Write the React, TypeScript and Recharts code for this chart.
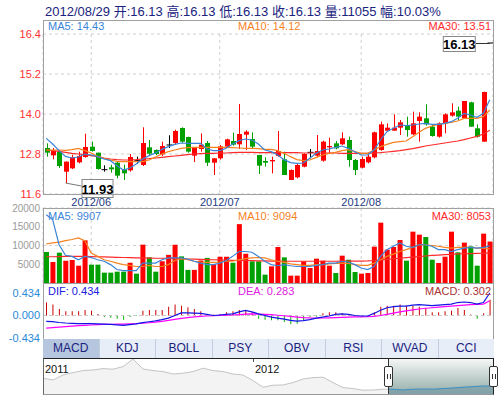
import React from "react";
import {
  ComposedChart,
  AreaChart,
  Area,
  Bar,
  Line,
  XAxis,
  YAxis,
  CartesianGrid,
  Cell,
  ReferenceDot,
  ReferenceLine,
} from "recharts";

const dates = [
  "2012/05/23", "2012/05/24", "2012/05/25", "2012/05/28", "2012/05/29", "2012/05/30", "2012/05/31",
  "2012/06/01", "2012/06/04", "2012/06/05", "2012/06/06", "2012/06/07", "2012/06/08", "2012/06/11",
  "2012/06/12", "2012/06/13", "2012/06/14", "2012/06/15", "2012/06/18", "2012/06/19", "2012/06/20",
  "2012/06/21", "2012/06/25", "2012/06/26", "2012/06/27", "2012/06/28", "2012/06/29",
  "2012/07/02", "2012/07/03", "2012/07/04", "2012/07/05", "2012/07/06", "2012/07/09", "2012/07/10",
  "2012/07/11", "2012/07/12", "2012/07/13", "2012/07/16", "2012/07/17", "2012/07/18", "2012/07/19",
  "2012/07/20", "2012/07/23", "2012/07/24", "2012/07/25", "2012/07/26", "2012/07/27", "2012/07/30",
  "2012/07/31",
  "2012/08/01", "2012/08/02", "2012/08/03", "2012/08/06", "2012/08/07", "2012/08/08", "2012/08/09",
  "2012/08/10", "2012/08/13", "2012/08/14", "2012/08/15", "2012/08/16", "2012/08/17", "2012/08/20",
  "2012/08/21", "2012/08/22", "2012/08/23", "2012/08/24", "2012/08/27", "2012/08/28", "2012/08/29",
];

const opens = [
  12.98, 12.76, 12.87, 12.27, 12.37, 12.55, 12.71, 13.02, 12.84, 12.33,
  12.4, 12.54, 12.34, 12.31, 12.6, 12.47, 13.0, 12.92, 12.79, 13.07,
  13.13, 13.58, 13.31, 12.75, 12.95, 13.13, 12.54, 12.67, 13.02, 13.19,
  13.09, 13.38, 13.25, 12.77, 12.59, 12.58, 12.74, 12.64, 12.02, 12.1,
  12.42, 12.85, 12.75, 12.6, 13.0, 13.12, 13.09, 13.22, 12.62, 12.39,
  12.55, 12.7, 12.92, 13.5, 13.5, 13.59, 13.67, 13.39, 13.79, 13.87,
  13.62, 13.32, 13.72, 13.95, 14.1, 13.87, 14.35, 13.57, 13.17, 16.13,
];
const highs = [
  13.12, 12.98, 12.92, 12.58, 12.78, 12.87, 13.41, 13.17, 12.84, 12.46,
  12.48, 12.57, 12.48, 12.8, 12.72, 13.6, 13.22, 12.94, 13.17, 13.36,
  13.53, 13.6, 13.32, 13.0, 13.42, 13.19, 12.68, 13.07, 13.26, 13.44,
  14.3, 13.51, 13.45, 12.77, 12.7, 12.72, 13.49, 12.87, 12.34, 12.52,
  12.82, 12.95, 13.37, 13.2, 13.29, 13.19, 13.45, 13.32, 12.65, 12.72,
  12.82, 13.47, 13.77, 13.72, 13.99, 13.82, 13.92, 14.07, 14.05, 14.29,
  13.67, 13.75, 14.02, 14.32, 14.22, 14.39, 14.37, 13.69, 14.67, 16.13,
];
const lows = [
  12.72, 12.64, 12.38, 11.93, 12.35, 12.52, 12.69, 12.87, 12.33, 12.27,
  12.24, 12.07, 12.02, 12.27, 12.51, 12.44, 12.76, 12.77, 12.74, 12.98,
  13.08, 13.14, 12.84, 12.56, 12.87, 12.44, 12.17, 12.63, 12.99, 13.05,
  12.95, 12.92, 12.95, 12.2, 12.42, 12.22, 12.72, 12.17, 12.02, 12.07,
  12.4, 12.67, 12.7, 12.57, 12.82, 12.94, 13.07, 12.42, 12.17, 12.37,
  12.52, 12.67, 12.9, 13.5, 13.5, 13.37, 13.32, 13.37, 13.17, 13.65,
  13.32, 13.29, 13.42, 13.92, 13.82, 13.87, 13.62, 13.29, 13.17, 16.13,
];
const closes = [
  12.84, 12.9, 12.44, 12.57, 12.7, 12.74, 13.01, 12.89, 12.35, 12.33,
  12.34, 12.15, 12.22, 12.71, 12.6, 13.13, 12.81, 12.8, 13.04, 13.07,
  13.49, 13.17, 12.87, 12.98, 13.08, 12.54, 12.67, 13.03, 13.24, 13.08,
  13.4, 13.47, 13.02, 12.45, 12.54, 12.62, 12.89, 12.17, 12.32, 12.47,
  12.8, 12.85, 12.89, 13.17, 13.04, 12.97, 13.27, 12.62, 12.32, 12.65,
  12.72, 13.45, 13.69, 13.59, 13.59, 13.75, 13.52, 13.72, 13.92, 13.69,
  13.34, 13.72, 13.99, 14.05, 13.92, 14.39, 13.62, 13.32, 14.66, 16.13,
];

const priceMa5 = [
  13.27, 13.1, 12.9, 12.73, 12.68, 12.71, 12.8, 12.77, 12.72, 12.65,
  12.6, 12.45, 12.32, 12.38, 12.5, 12.65, 12.75, 12.83, 12.94, 13.02,
  13.09, 13.13, 13.12, 13.12, 13.12, 12.95, 12.9, 12.9, 12.97, 13.1,
  13.2, 13.25, 13.22, 13.1, 12.92, 12.87, 12.77, 12.63, 12.54, 12.52,
  12.53, 12.67, 12.82, 12.92, 12.95, 13.0, 13.04, 12.97, 12.87, 12.77,
  12.77, 12.92, 13.22, 13.47, 13.57, 13.67, 13.65, 13.67, 13.7, 13.72,
  13.69, 13.69, 13.72, 13.77, 13.87, 14.02, 13.97, 13.9, 14.02, 14.43,
];
const priceMa10 = [
  12.92, 12.92, 12.92, 12.91, 12.93, 12.97, 12.9, 12.83, 12.73, 12.67,
  12.62, 12.58, 12.57, 12.57, 12.57, 12.57, 12.62, 12.71, 12.8, 12.87,
  12.92, 12.97, 12.99, 13.0, 13.0, 13.0, 13.0, 13.0, 13.0, 12.99,
  12.98, 12.97, 12.97, 12.96, 12.94, 12.94, 12.9, 12.82, 12.72, 12.63,
  12.6, 12.62, 12.7, 12.77, 12.82, 12.85, 12.9, 12.93, 12.87, 12.82,
  12.82, 12.92, 13.02, 13.09, 13.15, 13.17, 13.19, 13.32, 13.45, 13.57,
  13.64, 13.69, 13.72, 13.75, 13.79, 13.87, 13.87, 13.87, 13.92, 14.12,
];
const priceMa30 = [
  12.92, 12.9, 12.88, 12.85, 12.82, 12.8, 12.78, 12.75, 12.72, 12.68,
  12.65, 12.63, 12.62, 12.62, 12.63, 12.65, 12.66, 12.68, 12.7, 12.72,
  12.74, 12.76, 12.78, 12.8, 12.81, 12.82, 12.82, 12.83, 12.83, 12.84,
  12.85, 12.85, 12.85, 12.84, 12.84, 12.84, 12.84, 12.84, 12.84, 12.84,
  12.83, 12.83, 12.83, 12.83, 12.83, 12.83, 12.82, 12.82, 12.82, 12.82,
  12.82, 12.83, 12.84, 12.86, 12.88, 12.9, 12.93, 12.96, 13.0, 13.04,
  13.07, 13.1, 13.13, 13.16, 13.19, 13.23, 13.28, 13.33, 13.4, 13.51,
];

const volumes = [
  8270, 5600, 8090, 5960, 6130, 4620, 11380, 4890, 4890, 2760,
  2760, 3020, 3020, 5420, 2490, 10220, 6840, 3020, 5800, 7500,
  10200, 7100, 3500, 3500, 6000, 6700, 5000, 7000, 7000, 5400,
  15700, 7800, 5780, 5780, 2220, 4440, 9600, 6840, 1960, 1960,
  5780, 4000, 6490, 5960, 4620, 2670, 7290, 6220, 2930, 2490,
  2670, 9690, 16090, 8890, 9600, 11470, 5960, 13690, 12890, 12270,
  6220, 5330, 7020, 13690, 8180, 10760, 9780, 4620, 13160, 11055,
];
const volMa5 = [
  18200, 16900, 10200, 7400, 7100, 6200, 7100, 6800, 6200, 5800,
  4900, 3600, 3300, 3300, 3300, 5300, 5300, 5300, 6200, 6700,
  6700, 6700, 6400, 5800, 5300, 4900, 4900, 5300, 6000, 7100,
  8400, 8400, 8200, 7100, 5800, 4900, 4600, 4900, 4600, 4400,
  4400, 4400, 4700, 4900, 5300, 5300, 5800, 5600, 4900, 4000,
  3600, 4400, 7100, 8900, 9800, 10700, 9800, 9500, 10200, 10200,
  9800, 8900, 8900, 8400, 8900, 9300, 9500, 9300, 9500, 9907,
];
const volMa10 = [
  10400, 10700, 10900, 11300, 11600, 12000, 11300, 8000, 7100, 6200,
  5800, 5300, 4900, 4700, 4400, 4400, 4700, 4400, 4400, 4900,
  6000, 6500, 6200, 5800, 5600, 5500, 5500, 5600, 5800, 5800,
  6200, 6500, 6700, 6800, 6700, 6200, 5800, 5500, 5100, 4900,
  4700, 4700, 4900, 4900, 5100, 5200, 5300, 5200, 4900, 4700,
  4700, 5300, 6200, 7100, 7700, 8400, 8900, 9500, 10200, 10200,
  10000, 9800, 9500, 9300, 9500, 9500, 9500, 9300, 9300, 9094,
];
const volMa30 = [
  7000, 7000, 7050, 7100, 7100, 7100, 7100, 7050, 7000, 6950,
  6900, 6850, 6800, 6750, 6700, 6700, 6650, 6600, 6600, 6550,
  6500, 6450, 6400, 6350, 6300, 6250, 6200, 6150, 6100, 6050,
  6000, 6000, 5950, 5900, 5900, 5850, 5850, 5800, 5800, 5800,
  5800, 5800, 5800, 5800, 5800, 5800, 5850, 5850, 5850, 5850,
  5900, 6000, 6150, 6300, 6450, 6600, 6750, 6900, 7050, 7200,
  7350, 7450, 7550, 7650, 7750, 7800, 7850, 7900, 7950, 8053,
];

const difs = [
  -0.113, -0.12, -0.135, -0.145, -0.15, -0.155, -0.155, -0.157, -0.16, -0.165,
  -0.17, -0.18, -0.19, -0.175, -0.16, -0.138, -0.12, -0.105, -0.08, -0.05,
  0.0, 0.05, 0.05, 0.045, 0.04, 0.02, 0.0, 0.01, 0.02, 0.03,
  0.07, 0.1, 0.07, 0.03, 0.0, -0.03, -0.05, -0.07, -0.095, -0.107,
  -0.1, -0.08, -0.05, -0.03, -0.01, 0.02, 0.03, 0.02, 0.0, -0.01,
  -0.01, 0.04, 0.1, 0.15, 0.17, 0.18, 0.18, 0.2, 0.21, 0.2,
  0.19, 0.2, 0.21, 0.22, 0.25, 0.26, 0.25, 0.22, 0.25, 0.434,
];
const deas = [
  -0.245, -0.235, -0.225, -0.215, -0.205, -0.197, -0.19, -0.183, -0.177, -0.172,
  -0.17, -0.168, -0.165, -0.162, -0.158, -0.15, -0.14, -0.128, -0.112, -0.095,
  -0.075, -0.055, -0.04, -0.028, -0.018, -0.01, -0.005, 0.0, 0.005, 0.01,
  0.018, 0.025, 0.03, 0.028, 0.022, 0.015, 0.005, -0.005, -0.018, -0.03,
  -0.04, -0.047, -0.05, -0.048, -0.045, -0.04, -0.035, -0.03, -0.027, -0.025,
  -0.022, -0.015, 0.0, 0.02, 0.045, 0.07, 0.09, 0.11, 0.125, 0.14,
  0.15, 0.16, 0.17, 0.18, 0.19, 0.2, 0.21, 0.215, 0.22, 0.283,
];
const macdHist = [
  0.25, 0.21, 0.126, 0.082, 0.082, 0.082, 0.107, 0.094, 0.03, -0.03,
  -0.044, -0.063, -0.08, -0.03, -0.01, 0.094, 0.107, 0.107, 0.107, 0.17,
  0.21, 0.19, 0.157, 0.126, 0.082, 0.03, 0.02, 0.03, 0.063, 0.082,
  0.107, 0.107, 0.063, -0.063, -0.08, -0.094, -0.094, -0.126, -0.17, -0.157,
  -0.094, -0.03, -0.02, 0.044, 0.063, 0.063, 0.044, 0.01, -0.02, -0.02,
  0.01, 0.063, 0.17, 0.19, 0.19, 0.21, 0.19, 0.19, 0.17, 0.145,
  0.063, 0.063, 0.082, 0.094, 0.145, 0.107, 0.02, -0.063, 0.044, 0.302,
];

const monthTicks = ["2012/06/01", "2012/07/02", "2012/08/01"];
const priceTicks = [11.6, 12.8, 14.0, 15.2, 16.4];
const volTicks = [0, 5000, 10000, 15000, 20000];
const macdTicks = [-0.434, 0, 0.434];
const tabs = ["MACD", "KDJ", "BOLL", "PSY", "OBV", "RSI", "WVAD", "CCI"];

// overview strip (2011 .. 2012/08), one level every ~10px
const navLevels = [
  17.9, 17.0, 19.5, 20.7, 21.7, 22.0, 22.7, 22.4, 23.7, 27.4,
  22.5, 21.7, 21.2, 20.0, 20.4, 21.2, 22.9, 21.7, 21.2, 20.0,
  19.5, 16.7, 13.4, 14.4, 14.5, 15.7, 17.5, 18.2, 18.4, 15.7,
  13.2, 12.7, 11.9, 12.0, 12.4, 12.4, 12.0, 12.4, 12.5, 12.4,
  12.7, 13.0, 13.4, 13.7, 14.0, 14.0,
];
const navYearIdx = [0, 21];
const navYears = ["2011", "2012"];
const navSelFrom = 34;

const FONT = '"Liberation Sans", Arial, "Noto Sans CJK SC", sans-serif';
const UP = "#ff0000";
const DOWN = "#00a000";
const C_MA5 = "#3a84d8";
const C_MA10 = "#f5821f";
const C_MA30 = "#ff2a2a";

const rows = dates.map((date, i) => {
  const prevClose = i > 0 ? closes[i - 1] : opens[i];
  const rising = closes[i] > opens[i] || (closes[i] === opens[i] && closes[i] >= prevClose);
  return {
    date,
    open: opens[i],
    high: highs[i],
    low: lows[i],
    close: closes[i],
    ma5: priceMa5[i],
    ma10: priceMa10[i],
    ma30: priceMa30[i],
    vol: volumes[i],
    vma5: volMa5[i],
    vma10: volMa10[i],
    vma30: volMa30[i],
    dif: difs[i],
    dea: deas[i],
    macd: macdHist[i],
    rising,
  };
});

const last = rows.length - 1;
let minIdx = 0;
let maxIdx = 0;
rows.forEach((r, i) => {
  if (r.low < rows[minIdx].low) minIdx = i;
  if (r.high > rows[maxIdx].high) maxIdx = i;
});
const changePct = ((closes[last] / closes[last - 1] - 1) * 100).toFixed(2);
const title = `${dates[last]} 开:${opens[last].toFixed(2)} 高:${highs[last].toFixed(2)} 低:${lows[last].toFixed(2)} 收:${closes[last].toFixed(2)} 量:${volumes[last]} 幅:${changePct}%`;

const navRows = navLevels.map((v, i) => ({ i, v, sel: i >= navSelFrom ? v : null }));

function Candle(props: any) {
  const { x, y, width, height, payload } = props;
  if (!payload || x == null) return null;
  const { open, close, high, low } = payload;
  const span = high - low;
  const py = (v: number) => (span === 0 ? y : y + ((high - v) / span) * height);
  const color = close > open ? UP : close < open ? DOWN : "#000";
  const cx = Math.round(x + width / 2) + 0.5;
  const top = py(Math.max(open, close));
  const bot = py(Math.min(open, close));
  return (
    <g>
      {span > 0 && <line x1={cx} x2={cx} y1={y} y2={y + height} stroke={color} strokeWidth={1} />}
      {close === open ? (
        <line x1={cx - 3} x2={cx + 3} y1={top} y2={top} stroke={color} strokeWidth={1} />
      ) : (
        <rect x={cx - 2.5} y={top} width={5} height={Math.max(bot - top, 1)} fill={color} />
      )}
    </g>
  );
}

const MinMarker = (p: any) => {
  const { cx, cy } = p;
  return (
    <g>
      <line x1={cx} y1={cy} x2={cx + 16} y2={cy + 3} stroke="#777" />
      <rect x={cx + 16.5} y={cy - 3.5} width={31} height={18} fill="#fff" stroke="#888" />
      <text x={cx + 32} y={cy + 10.5} textAnchor="middle" fontSize={13} fontWeight="bold" fill="#000">
        {rows[minIdx].low.toFixed(2)}
      </text>
    </g>
  );
};

const MaxMarker = (p: any) => {
  const { cx, cy } = p;
  return (
    <g>
      <line x1={cx - 14} y1={cy + 0.5} x2={cx} y2={cy + 0.5} stroke="#333" />
      <rect x={cx - 46.5} y={cy - 6.5} width={32} height={15} fill="#fff" stroke="#888" />
      <text x={cx - 30.5} y={cy + 5.5} textAnchor="middle" fontSize={13} fontWeight="bold" fill="#000">
        {rows[maxIdx].high.toFixed(2)}
      </text>
    </g>
  );
};

const YearLabel = (p: any) => {
  const vb = p.viewBox || {};
  const x = vb.x ?? 0;
  const y = vb.y ?? 0;
  return (
    <g>
      <line x1={x + 0.5} x2={x + 0.5} y1={y} y2={y + 4} stroke="#555" />
      <text x={x + 2} y={y + 15} fontSize={11} fill="#111">
        {p.text}
      </text>
    </g>
  );
};

const box = (left: number, top: number, width: number, height: number): React.CSSProperties => ({
  position: "absolute",
  left,
  top,
  width,
  height,
  boxSizing: "border-box",
  border: "1px solid #a0a0a0",
  pointerEvents: "none",
});

const txt = (left: number, top: number, color: string, align: "left" | "right" = "left"): React.CSSProperties => ({
  position: "absolute",
  top,
  ...(align === "left" ? { left } : { right: 498 - left }),
  color,
  fontSize: 11,
  lineHeight: "12px",
  whiteSpace: "nowrap",
});

export default function App() {
  return (
    <div
      style={{
        position: "absolute",
        left: 0,
        top: 0,
        width: 498,
        height: 398,
        background: "#fff",
        overflow: "hidden",
        fontFamily: FONT,
      }}
    >
      <div style={{ position: "absolute", left: 45, top: 4, fontSize: 13, lineHeight: "16px", color: "#1a237e", whiteSpace: "nowrap" }}>
        {title}
      </div>

      {/* price panel */}
      <div style={{ position: "absolute", left: 0, top: 20 }}>
        <ComposedChart width={498} height={188} data={rows} margin={{ top: 14, right: 5, bottom: 0, left: 0 }}>
          <CartesianGrid stroke="#cfcfcf" strokeDasharray="3 3" />
          <XAxis
            dataKey="date"
            ticks={monthTicks}
            interval={0}
            tickFormatter={(d: string) => d.slice(0, 7)}
            axisLine={false}
            tickLine={false}
            tickSize={0}
            tickMargin={4}
            height={14}
            tick={{ fontSize: 11, fill: "#1c3a82" }}
          />
          <YAxis
            domain={[11.6, 16.4]}
            ticks={priceTicks}
            width={43}
            axisLine={false}
            tickLine={false}
            tickSize={0}
            tickMargin={2}
            tickFormatter={(v: number) => v.toFixed(1)}
            tick={{ fontSize: 11, fill: "#ff3030" }}
          />
          <Bar dataKey={(r: any) => [r.low, r.high]} barSize={5} shape={(p: any) => <Candle {...p} />} isAnimationActive={false} />
          <Line dataKey="ma30" stroke={C_MA30} strokeWidth={1.2} dot={false} activeDot={false} isAnimationActive={false} />
          <Line dataKey="ma10" stroke={C_MA10} strokeWidth={1.2} dot={false} activeDot={false} isAnimationActive={false} />
          <Line dataKey="ma5" stroke={C_MA5} strokeWidth={1.2} dot={false} activeDot={false} isAnimationActive={false} />
          <ReferenceDot x={dates[minIdx]} y={rows[minIdx].low} r={0} shape={MinMarker} />
          <ReferenceDot x={dates[maxIdx]} y={rows[maxIdx].high} r={0} shape={MaxMarker} />
        </ComposedChart>
      </div>
      <div style={box(43, 20, 451, 175)} />
      <div style={txt(48, 20, C_MA5)}>MA5: {priceMa5[last].toFixed(2)}</div>
      <div style={txt(238, 20, C_MA10)}>MA10: {priceMa10[last].toFixed(2)}</div>
      <div style={txt(491, 20, C_MA30, "right")}>MA30: {priceMa30[last].toFixed(2)}</div>

      {/* volume panel */}
      <div style={{ position: "absolute", left: 0, top: 200 }}>
        <ComposedChart width={498} height={88} data={rows} margin={{ top: 8, right: 5, bottom: 5, left: 0 }}>
          <CartesianGrid stroke="#cfcfcf" strokeDasharray="3 3" />
          <XAxis dataKey="date" ticks={monthTicks} interval={0} hide />
          <YAxis
            domain={[0, 20000]}
            ticks={volTicks}
            width={43}
            axisLine={false}
            tickLine={false}
            tickSize={0}
            tickMargin={3}
            tick={{ fontSize: 10, fill: "#9a9a9a" }}
          />
          <Bar dataKey="vol" barSize={5} isAnimationActive={false}>
            {rows.map((r, i) => (
              <Cell key={i} fill={r.rising ? UP : DOWN} />
            ))}
          </Bar>
          <Line dataKey="vma30" stroke={C_MA30} strokeWidth={1.2} dot={false} activeDot={false} isAnimationActive={false} />
          <Line dataKey="vma10" stroke={C_MA10} strokeWidth={1.2} dot={false} activeDot={false} isAnimationActive={false} />
          <Line dataKey="vma5" stroke={C_MA5} strokeWidth={1.2} dot={false} activeDot={false} isAnimationActive={false} />
        </ComposedChart>
      </div>
      <div style={box(43, 208, 451, 76)} />
      <div style={txt(48, 210, C_MA5)}>MA5: {volMa5[last]}</div>
      <div style={txt(238, 210, C_MA10)}>MA10: {volMa10[last]}</div>
      <div style={txt(491, 210, C_MA30, "right")}>MA30: {volMa30[last]}</div>

      {/* MACD panel */}
      <div style={{ position: "absolute", left: 0, top: 285 }}>
        <ComposedChart width={498} height={59} data={rows} margin={{ top: 8, right: 5, bottom: 6, left: 0 }}>
          <XAxis dataKey="date" hide />
          <YAxis
            domain={[-0.434, 0.434]}
            ticks={macdTicks}
            width={43}
            axisLine={false}
            tickLine={false}
            tickSize={0}
            tickMargin={3}
            tickFormatter={(v: number) => v.toFixed(3)}
            tick={{ fontSize: 11, fill: "#2a8ad8" }}
          />
          <ReferenceLine y={0} stroke="#c8c8c8" strokeDasharray="3 3" />
          <Bar dataKey="macd" barSize={1} isAnimationActive={false}>
            {rows.map((r, i) => (
              <Cell key={i} fill={r.macd >= 0 ? "#cc0000" : "#00b400"} />
            ))}
          </Bar>
          <Line dataKey="dea" stroke="#ff00ff" strokeWidth={1.2} dot={false} activeDot={false} isAnimationActive={false} />
          <Line dataKey="dif" stroke="#1414e6" strokeWidth={1.2} dot={false} activeDot={false} isAnimationActive={false} />
        </ComposedChart>
      </div>
      <div style={box(43, 283, 451, 57)} />
      <div style={txt(48, 285, "#2020e0")}>DIF: {difs[last].toFixed(3)}</div>
      <div style={txt(238, 285, "#e020e0")}>DEA: {deas[last].toFixed(3)}</div>
      <div style={txt(491, 285, "#a83232", "right")}>MACD: {macdHist[last].toFixed(3)}</div>

      {/* indicator tabs */}
      <div style={{ position: "absolute", left: 43, top: 339, width: 451, height: 19, display: "flex", background: "#e8eef8" }}>
        {tabs.map((t, i) => (
          <div
            key={t}
            style={{
              flex: 1,
              boxSizing: "border-box",
              borderRight: i < tabs.length - 1 ? "1px solid #c2cde0" : "none",
              background: i === 0 ? "#b6c6de" : "#e8eef8",
              color: "#1a237e",
              fontSize: 12,
              lineHeight: "19px",
              textAlign: "center",
            }}
          >
            {t}
          </div>
        ))}
      </div>

      {/* overview navigator */}
      <div style={{ position: "absolute", left: 43, top: 358 }}>
        <AreaChart width={450} height={36} data={navRows} margin={{ top: 0, right: 0, bottom: 0, left: 0 }}>
          <XAxis type="number" dataKey="i" domain={[0, navLevels.length - 1]} hide />
          <YAxis domain={[10, 28]} hide />
          <Area dataKey="v" type="linear" stroke="#c4c4c4" fill="#f3f3f3" fillOpacity={1} isAnimationActive={false} />
          {navYearIdx.map((ix, k) => (
            <ReferenceLine key={ix} x={ix} stroke="none" label={<YearLabel text={navYears[k]} />} />
          ))}
        </AreaChart>
      </div>
      <div
        style={{
          position: "absolute",
          left: 388,
          top: 358,
          width: 105,
          height: 36,
          overflow: "hidden",
          borderLeft: "1px solid #333",
          background: "linear-gradient(#f7f9f8, #94ada8)",
        }}
      >
        <div style={{ position: "absolute", left: -346, top: 0 }}>
          <AreaChart width={450} height={36} data={navRows} margin={{ top: 0, right: 0, bottom: 0, left: 0 }}>
            <XAxis type="number" dataKey="i" domain={[0, navLevels.length - 1]} hide />
            <YAxis domain={[10, 28]} hide />
            <Area dataKey="sel" type="linear" stroke="#3d8fc4" fill="#6f98a6" fillOpacity={0.55} isAnimationActive={false} />
          </AreaChart>
        </div>
      </div>
      <div
        style={{
          position: "absolute",
          left: 43,
          top: 358,
          width: 451,
          height: 37,
          boxSizing: "border-box",
          borderTop: "1px solid #222",
          borderLeft: "1px solid #666",
          borderRight: "1px solid #222",
          borderBottom: "1px solid #999",
          pointerEvents: "none",
        }}
      />
      {[384, 489].map((l) => (
        <div
          key={l}
          style={{
            position: "absolute",
            left: l,
            top: 366,
            width: 9,
            height: 21,
            boxSizing: "border-box",
            border: "1px solid #333",
            borderRadius: 2,
            background: "#fff",
          }}
        >
          <div style={{ position: "absolute", left: 2, top: 7, width: 1, height: 5, background: "#333" }} />
          <div style={{ position: "absolute", left: 5, top: 7, width: 1, height: 5, background: "#333" }} />
        </div>
      ))}
    </div>
  );
}
